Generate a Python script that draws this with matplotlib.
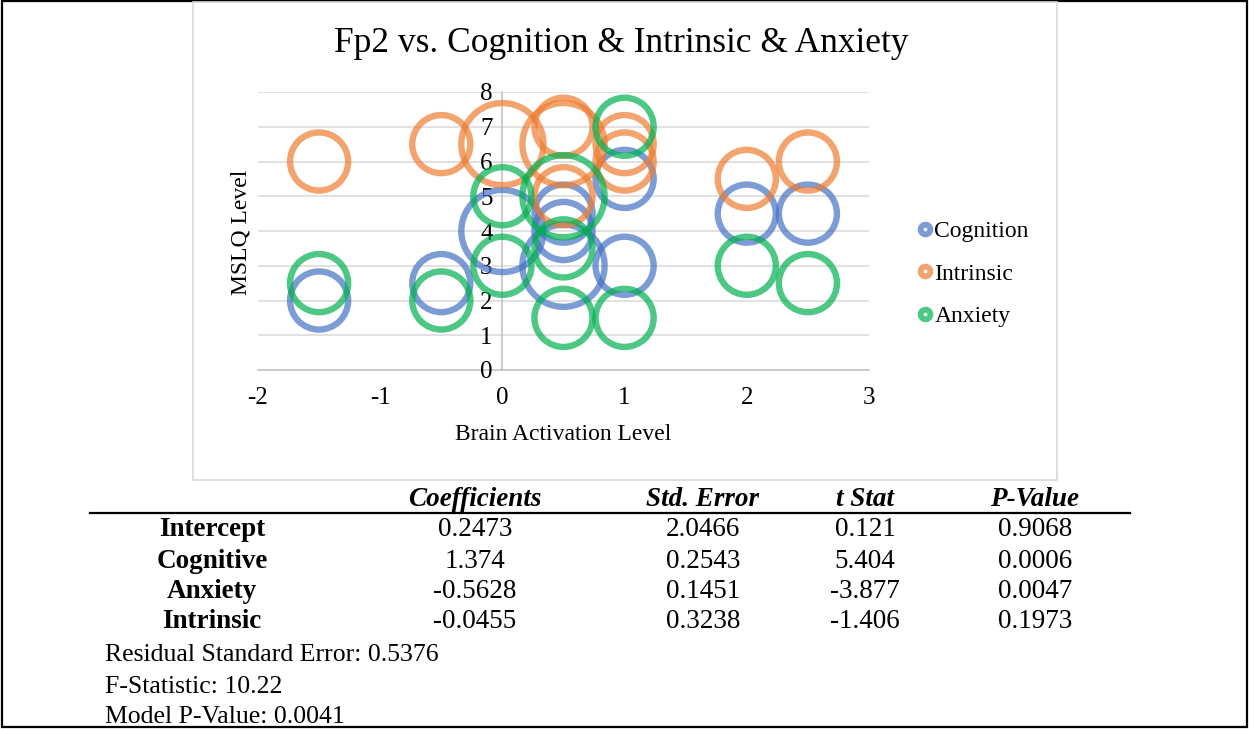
import matplotlib
matplotlib.use("Agg")
import matplotlib.pyplot as plt
from matplotlib.lines import Line2D
from matplotlib.patches import Rectangle

plt.rcParams['font.family'] = ['Liberation Serif', 'DejaVu Serif']
plt.rcParams['axes.unicode_minus'] = False

W, H = 1249, 729

# bubble data (x = brain activation, y = MSLQ level, s = bubble size)
cog_x = [-1.5, -0.5, 0, 0.5, 0.5, 0.5, 1, 1, 2, 2.5]
cog_y = [2, 2.5, 4, 4.5, 4, 3, 5.5, 3, 4.5, 4.5]
cog_s = [1, 1, 2, 1, 1, 2, 1, 1, 1, 1]

intr_x = [-1.5, -0.5, 0, 0.5, 0.5, 0.5, 1, 1, 2, 2.5]
intr_y = [6, 6.5, 6.5, 7, 6.5, 5, 6.5, 6, 5.5, 6]
intr_s = [1, 1, 2, 1, 2, 1, 1, 1, 1, 1]

anx_x = [-1.5, -0.5, 0, 0, 0.5, 0.5, 0.5, 1, 1, 2, 2.5]
anx_y = [2.5, 2, 5, 3, 5, 3.5, 1.5, 7, 1.5, 3, 2.5]
anx_s = [1, 1, 1, 1, 2, 1, 1, 1, 1, 1, 1]

series_names = ["Cognition", "Intrinsic", "Anxiety"]
colors = ["#4472C4", "#ED7D31", "#00B050"]

# regression table
col_headers = ["Coefficients", "Std. Error", "t Stat", "P-Value"]
row_labels = ["Intercept", "Cognitive", "Anxiety", "Intrinsic"]
coefs = ["0.2473", "1.374", "-0.5628", "-0.0455"]
std_errs = ["2.0466", "0.2543", "0.1451", "0.3238"]
t_stats = ["0.121", "5.404", "-3.877", "-1.406"]
p_values = ["0.9068", "0.0006", "0.0047", "0.1973"]
footnotes = ["Residual Standard Error: 0.5376", "F-Statistic: 10.22", "Model P-Value: 0.0041"]


def fx(px):
    return px / W


def fy(py):
    return 1 - py / H


fig = plt.figure(figsize=(W / 100, H / 100), dpi=100)

# outer border and chart box
fig.patches.append(Rectangle((fx(1.5), fy(727)), fx(1245), 726 / H, transform=fig.transFigure,
                             fill=False, edgecolor="black", lw=1.6))
fig.patches.append(Rectangle((fx(193), fy(480)), fx(864), 478 / H, transform=fig.transFigure,
                             fill=False, edgecolor="#D9D9D9", lw=1.2))

ax = fig.add_axes([fx(258), fy(370), fx(869 - 258), (370 - 92) / H])
ax.set_xlim(-2, 3)
ax.set_ylim(0, 8)

for yv in range(1, 9):
    ax.axhline(yv, color="#D9D9D9", lw=1.1, zorder=0)

scale = 1750
data = [(cog_x, cog_y, cog_s), (intr_x, intr_y, intr_s), (anx_x, anx_y, anx_s)]
for (xs, ys, ss), c in zip(data, colors):
    ax.scatter(xs, ys, s=[v * scale for v in ss], facecolors="none", edgecolors=c,
               linewidths=4.6, alpha=0.7, zorder=2)

for side in ["top", "right"]:
    ax.spines[side].set_visible(False)
ax.spines["left"].set_position(("data", 0))
for side in ["left", "bottom"]:
    ax.spines[side].set_color("#BFBFBF")
    ax.spines[side].set_zorder(0.5)
    ax.spines[side].set_linewidth(1.1)
ax.set_xticks(range(-2, 4))
ax.set_yticks(range(0, 9))
ax.tick_params(axis="x", length=0, pad=12, labelsize=18)
ax.tick_params(axis="y", length=0, pad=7, labelsize=18)
ax.patch.set_visible(False)

fig.text(fx(621), fy(44), "Fp2 vs. Cognition & Intrinsic & Anxiety", ha="center", va="center", fontsize=25.5)
fig.text(fx(563), fy(435), "Brain Activation Level", ha="center", va="center", fontsize=17)
fig.text(fx(241), fy(232), "MSLQ Level", ha="center", va="center", rotation=90, fontsize=17)

handles = [Line2D([], [], ls="none", marker="o", markersize=7, markerfacecolor="white",
                  markeredgecolor=c, markeredgewidth=4.2, alpha=0.7) for c in colors]
fig.legend(handles, series_names, loc="center left", bbox_to_anchor=(fx(906), fy(274)),
           frameon=False, fontsize=17, handlelength=0.6, handletextpad=0.1,
           labelspacing=0.88, borderpad=0)

# regression table
fig.add_artist(Line2D([fx(90), fx(1130)], [fy(513), fy(513)], color="black", lw=1.6))
col_x = [475, 703, 865, 1035]
for cx, h in zip(col_x, col_headers):
    fig.text(fx(cx), fy(499), h, ha="center", va="center", fontsize=19.5,
             fontweight="bold", fontstyle="italic")
row_y = [530, 561, 592, 622]
columns = [coefs, std_errs, t_stats, p_values]
for i, ry in enumerate(row_y):
    fig.text(fx(212), fy(ry), row_labels[i], ha="center", va="center", fontsize=19.5, fontweight="bold")
    for cx, col in zip(col_x, columns):
        fig.text(fx(cx), fy(ry), col[i], ha="center", va="center", fontsize=19.5)

for ry, note in zip([655, 687, 717], footnotes):
    fig.text(fx(105), fy(ry), note, ha="left", va="center", fontsize=18.5)

fig.savefig("out.png", dpi=100)
